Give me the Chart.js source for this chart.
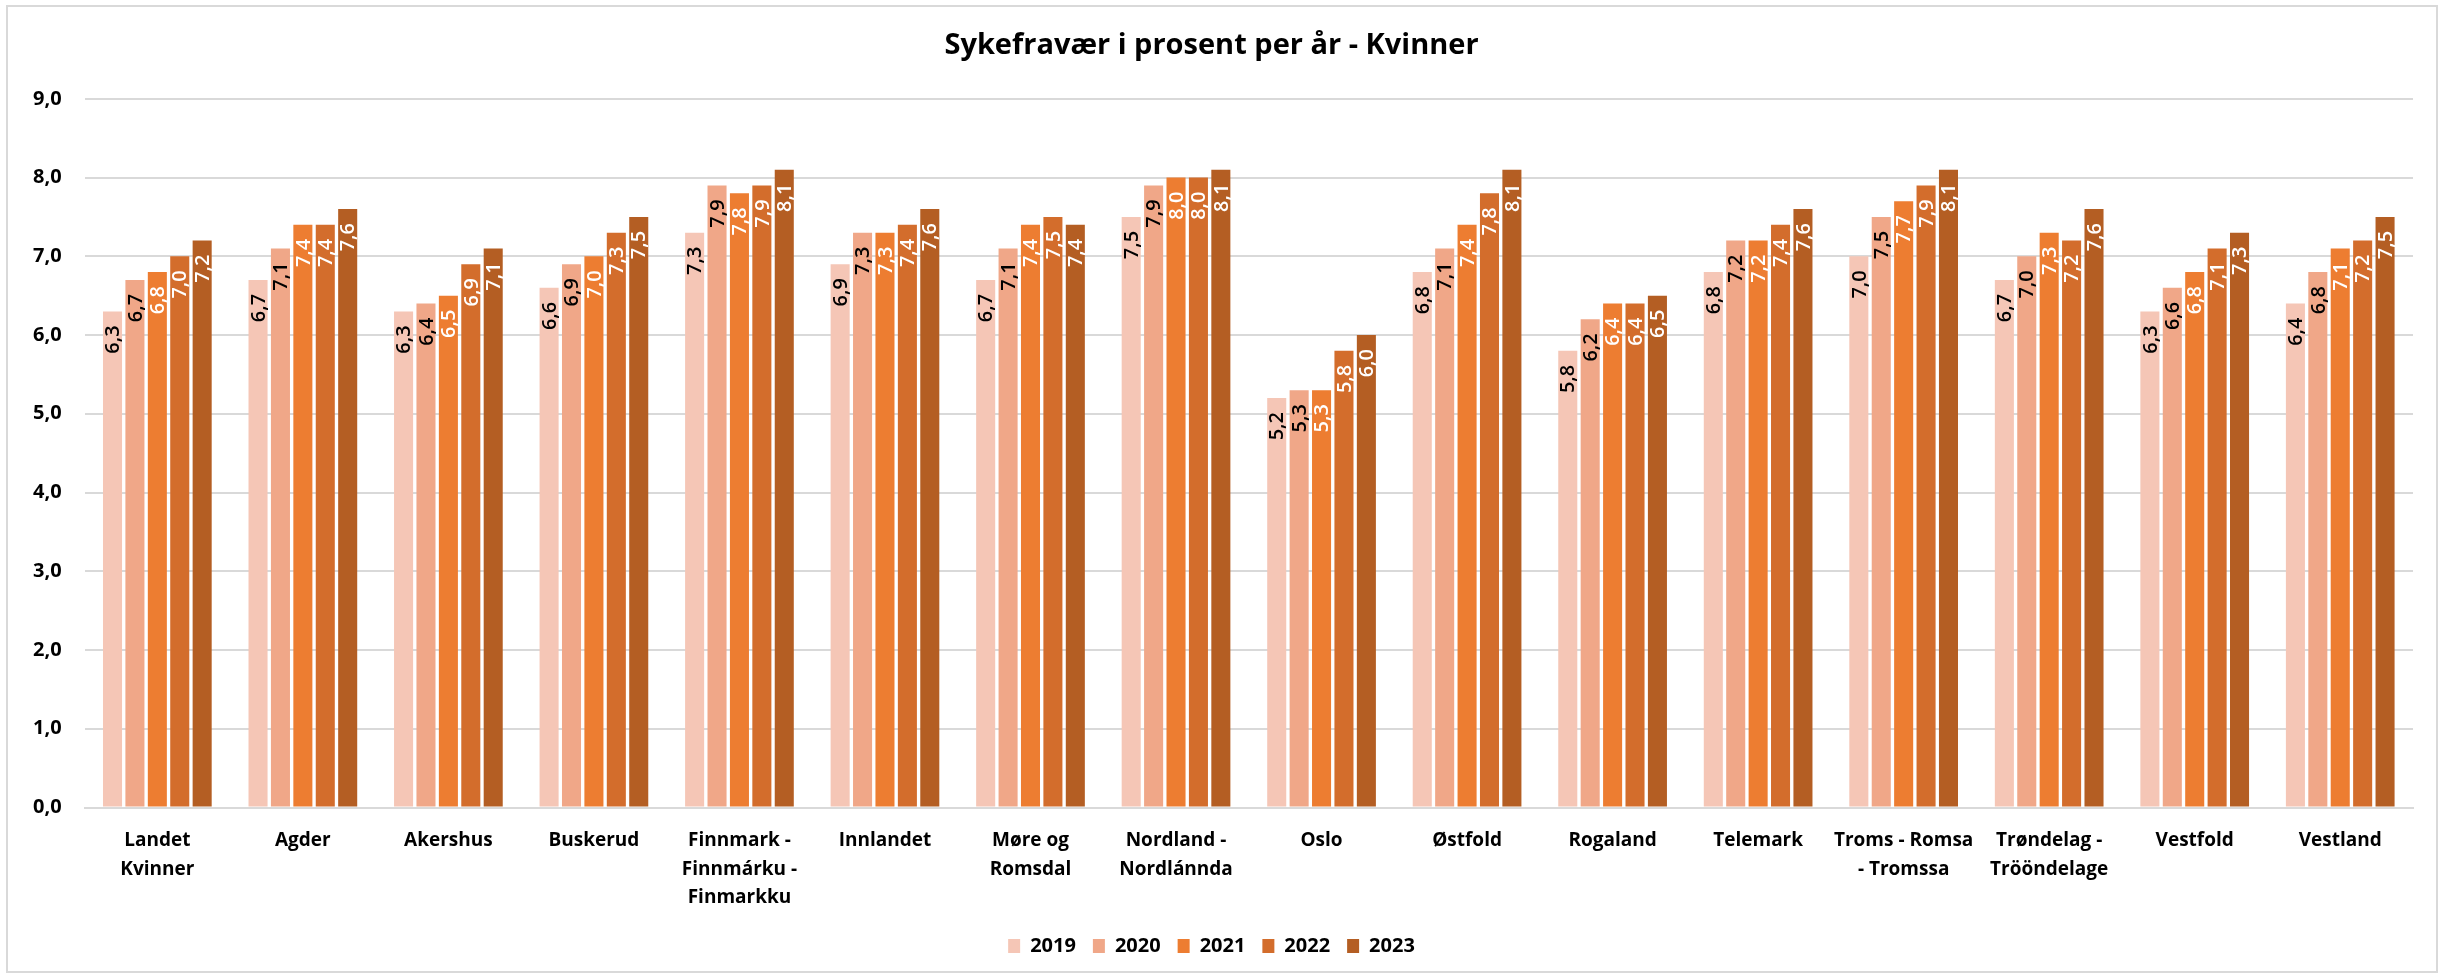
<!DOCTYPE html>
<html lang="no">
<head>
    <meta charset="UTF-8">
    <title>Sykefravær i prosent per år - Kvinner</title>
    <script src="https://cdn.jsdelivr.net/npm/chart.js"></script>
    <style>
        html, body { margin: 0; padding: 0; background: #fff; }
        #frame { position: absolute; left: 6px; top: 5px; width: 2432px; height: 968px; border: 2px solid #d9d9d9; box-sizing: border-box; }
        #chart { position: absolute; left: 0; top: 0; }
    </style>
</head>
<body>
    <div id="frame"></div>
    <canvas id="chart" width="2447" height="979"></canvas>
    <script>
        const categories = [
            ["Landet", "Kvinner"], "Agder", "Akershus", "Buskerud",
            ["Finnmark -", "Finnmárku -", "Finmarkku"], "Innlandet", ["Møre og", "Romsdal"],
            ["Nordland -", "Nordlánnda"], "Oslo", "Østfold", "Rogaland", "Telemark",
            ["Troms - Romsa", "- Tromssa"], ["Trøndelag -", "Trööndelage"], "Vestfold", "Vestland"
        ];
        const years = ["2019", "2020", "2021", "2022", "2023"];
        const v2019 = [6.3, 6.7, 6.3, 6.6, 7.3, 6.9, 6.7, 7.5, 5.2, 6.8, 5.8, 6.8, 7.0, 6.7, 6.3, 6.4];
        const v2020 = [6.7, 7.1, 6.4, 6.9, 7.9, 7.3, 7.1, 7.9, 5.3, 7.1, 6.2, 7.2, 7.5, 7.0, 6.6, 6.8];
        const v2021 = [6.8, 7.4, 6.5, 7.0, 7.8, 7.3, 7.4, 8.0, 5.3, 7.4, 6.4, 7.2, 7.7, 7.3, 6.8, 7.1];
        const v2022 = [7.0, 7.4, 6.9, 7.3, 7.9, 7.4, 7.5, 8.0, 5.8, 7.8, 6.4, 7.4, 7.9, 7.2, 7.1, 7.2];
        const v2023 = [7.2, 7.6, 7.1, 7.5, 8.1, 7.6, 7.4, 8.1, 6.0, 8.1, 6.5, 7.6, 8.1, 7.6, 7.3, 7.5];
        const yTicks = [0, 1, 2, 3, 4, 5, 6, 7, 8, 9];

        const seriesValues = [v2019, v2020, v2021, v2022, v2023];
        const barColors = ["#F5C6B6", "#F0A788", "#ED7D31", "#D36D2C", "#B45E23"];
        const labelColors = ["#000000", "#000000", "#FFFFFF", "#FFFFFF", "#FFFFFF"];
        const FONT = '"Open Sans", "DejaVu Sans", sans-serif';

        const fmt = v => v.toFixed(1).replace(".", ",");

        // value labels, rotated, inside the top of each bar
        const barLabels = {
            id: "barLabels",
            afterDatasetsDraw(chart) {
                const ctx = chart.ctx;
                chart.data.datasets.forEach((ds, i) => {
                    const meta = chart.getDatasetMeta(i);
                    if (meta.hidden) return;
                    meta.data.forEach((bar, j) => {
                        ctx.save();
                        ctx.translate(bar.x, bar.y + 14);
                        ctx.rotate(-Math.PI / 2);
                        ctx.font = "600 20px " + FONT;
                        ctx.fillStyle = labelColors[i];
                        ctx.textAlign = "right";
                        ctx.textBaseline = "middle";
                        ctx.fillText(fmt(ds.data[j]), 0, 1);
                        ctx.restore();
                    });
                });
            }
        };

        Chart.defaults.color = "#000";
        Chart.defaults.font.family = FONT;

        new Chart(document.getElementById("chart"), {
            type: "bar",
            data: {
                labels: categories,
                datasets: years.map((y, i) => ({
                    label: y,
                    data: seriesValues[i],
                    backgroundColor: barColors[i],
                    borderWidth: 0,
                    categoryPercentage: 0.77,
                    barPercentage: 0.85
                }))
            },
            options: {
                responsive: false,
                animation: false,
                devicePixelRatio: 1,
                layout: { padding: { left: 10, right: 34, top: 18, bottom: 13 } },
                plugins: {
                    title: {
                        display: true,
                        text: "Sykefravær i prosent per år - Kvinner",
                        font: { size: 29, weight: "bold" },
                        padding: { top: 10, bottom: 36 }
                    },
                    legend: {
                        position: "bottom",
                        labels: {
                            boxWidth: 12,
                            boxHeight: 14,
                            padding: 17,
                            font: { size: 20, weight: "bold" }
                        }
                    },
                    tooltip: { enabled: false }
                },
                scales: {
                    x: {
                        grid: { display: false, drawTicks: false },
                        border: { color: "#d9d9d9", width: 2 },
                        afterFit: scale => { scale.height -= 12; },
                        ticks: {
                            autoSkip: false,
                            maxRotation: 0,
                            padding: 19,
                            font: { size: 19, weight: "bold", lineHeight: 1.5 }
                        }
                    },
                    y: {
                        min: 0,
                        max: 9,
                        afterBuildTicks: axis => { axis.ticks = yTicks.map(v => ({ value: v })); },
                        grid: { color: "#d9d9d9", lineWidth: 2, drawTicks: false },
                        border: { display: false },
                        ticks: {
                            padding: 23,
                            font: { size: 20, weight: "bold" },
                            callback: v => fmt(v)
                        }
                    }
                }
            },
            plugins: [barLabels]
        });
    </script>
</body>
</html>
